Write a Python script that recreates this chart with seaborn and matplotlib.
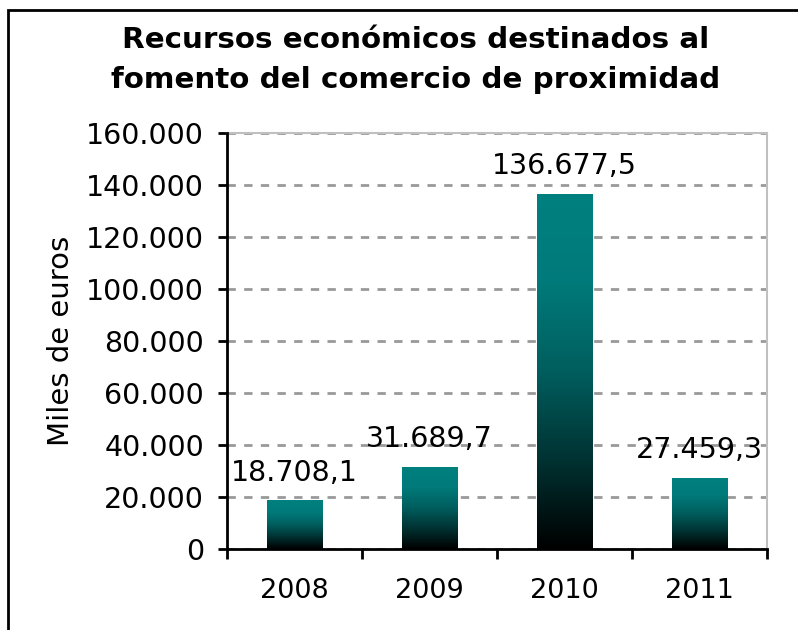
import numpy as np
import pandas as pd
import matplotlib
matplotlib.use("Agg")
import matplotlib.pyplot as plt
from matplotlib.colors import LinearSegmentedColormap
from matplotlib.ticker import FuncFormatter, FixedLocator
from matplotlib.patches import Rectangle
import seaborn as sns

# ---- data ----
years = ["2008", "2009", "2010", "2011"]
values = [18708.1, 31689.7, 136677.5, 27459.3]
yticks = [0, 20000, 40000, 60000, 80000, 100000, 120000, 140000, 160000]
title = "Recursos económicos destinados al\nfomento del comercio de proximidad"
ylabel = "Miles de euros"

def es_int(v, pos=None):
    return f"{int(round(v)):,}".replace(",", ".")

def es_dec(v):
    s = f"{v:,.1f}"
    return s.replace(",", "X").replace(".", ",").replace("X", ".")

sns.set_theme(style="white")
plt.rcParams["font.family"] = ["DejaVu Sans"]
plt.rcParams["text.color"] = "black"
plt.rcParams["xtick.color"] = "black"
plt.rcParams["ytick.color"] = "black"
plt.rcParams["xtick.labelcolor"] = "black"
plt.rcParams["ytick.labelcolor"] = "black"

fig = plt.figure(figsize=(7.98, 6.30), dpi=100)
ax = fig.add_axes([227/798, 1-549/630, (767-227)/798, (549-133)/630])

df = pd.DataFrame({"year": years, "value": values})
sns.barplot(data=df, x="year", y="value", color="#008080", width=0.41, ax=ax,
            saturation=1, zorder=3)

cmap = LinearSegmentedColormap.from_list(
    "tealblack",
    [(0.0, "#000000"), (0.25, "#003232"), (0.5, "#005e5e"), (0.75, "#007a7a"), (1.0, "#008080")])
grad = np.linspace(0, 1, 256).reshape(-1, 1)
for p in ax.patches:
    x0, y0 = p.get_x(), p.get_y()
    w, h = p.get_width(), p.get_height()
    im = ax.imshow(grad, cmap=cmap, origin="lower", aspect="auto",
                   extent=[x0, x0 + w, y0, y0 + h], zorder=3)
    im.set_clip_path(p)
    p.set_facecolor("none")
    p.set_edgecolor("none")

for i, v in enumerate(values):
    ax.annotate(es_dec(v), xy=(i, v), xytext=(0, 20), textcoords="offset points",
                ha="center", va="center", fontsize=20.5, color="black", zorder=5)

ax.set_xlim(-0.5, 3.5)
ax.set_ylim(0, 160000)
ax.yaxis.set_major_locator(FixedLocator(yticks))
ax.yaxis.set_major_formatter(FuncFormatter(es_int))
ax.set_xticks(range(len(years)))
ax.set_xticklabels(years)
ax.set_xticks([-0.5, 0.5, 1.5, 2.5, 3.5], minor=True)
ax.tick_params(axis="x", which="major", length=0, labelsize=19.5, pad=21, colors="black")
ax.tick_params(axis="x", which="minor", length=7, width=2, direction="out", color="black", bottom=True)
ax.tick_params(axis="y", which="major", length=6.5, width=2, direction="out", labelsize=20.5,
               pad=10, color="black", labelcolor="black", left=True)
ax.set_xlabel("")
ax.set_ylabel("")

ax.grid(axis="y", color="#999999", linestyle=(0, (3, 3)), linewidth=2, zorder=1)
ax.grid(axis="x", visible=False)
ax.set_axisbelow(True)

for side in ["left", "bottom"]:
    ax.spines[side].set_color("black")
    ax.spines[side].set_linewidth(2)
    ax.spines[side].set_zorder(4)
for side in ["top", "right"]:
    ax.spines[side].set_color("#c0c0c0")
    ax.spines[side].set_linewidth(1.5)

fig.text(416/798, 1-60/630, title, ha="center", va="center", fontsize=21.2,
         fontweight="bold", linespacing=1.5, color="black")
fig.text(61/798, 1-341/630, ylabel, ha="center", va="center", rotation=90, fontsize=21,
         color="black")

# outer frame (top & left visible)
fig.add_artist(Rectangle((8/798, -0.1), 1.2, 1 - 10/630 + 0.1, transform=fig.transFigure,
                         fill=False, edgecolor="black", linewidth=2))

fig.savefig("out.png", dpi=100)
